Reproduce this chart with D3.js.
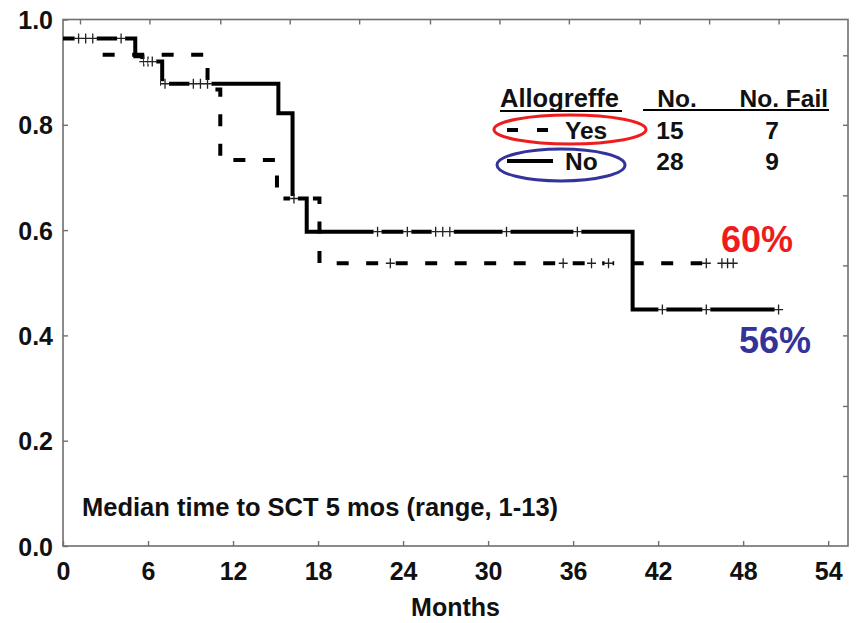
<!DOCTYPE html>
<html>
<head>
<meta charset="utf-8">
<script src="https://cdn.jsdelivr.net/npm/d3@7"></script>
<style>
  body { margin: 0; background: #fff; }
  text { font-family: "Liberation Sans", Arial, sans-serif; font-weight: bold; fill: #111; }
</style>
</head>
<body>
<svg id="chart"></svg>
<script>
// chart data
var xTicks = [0, 6, 12, 18, 24, 30, 36, 42, 48, 54];
var yTicks = [0, 0.2, 0.4, 0.6, 0.8, 1.0];
var topTicks = [1.2, 6.1, 11.1, 16.0, 20.9, 25.9, 30.8, 35.7, 40.7, 45.6, 50.5];
var rightTicks = [0.133, 0.266, 0.4, 0.533, 0.666, 0.8, 0.932];

// "No" group (solid)
var noTimes = [0, 5.1, 5.6, 7.0, 15.2, 16.2, 17.2, 40.2, 50.5];
var noSurv  = [0.964, 0.93, 0.92, 0.878, 0.822, 0.66, 0.597, 0.449, 0.449];
var noCensor = [1.1, 1.6, 2.1, 4.1, 5.7, 6.0, 6.3, 7.2, 9.2, 9.7, 10.2, 16.3, 22.2, 24.3, 26.3, 26.8, 27.3, 31.3, 36.3, 42.3, 45.4, 50.5];

// "Yes" group (dashed)
var yesTimes = [2.8, 10.2, 11.1, 15.1, 18.1, 47.3];
var yesSurv  = [0.933, 0.867, 0.733, 0.66, 0.537, 0.537];
var yesCensor = [23.1, 35.3, 37.3, 38.5, 45.4, 46.5, 46.9, 47.3];

var legendHead = ["Allogreffe", "No.", "No. Fail"];
var groups = ["Yes", "No"];
var groupN = [15, 28];
var groupFail = [7, 9];

// set the dimensions and margins of the graph
var W = 862, H = 623;
var margin = {top: 19.5, right: 14, bottom: 77, left: 63};

var svg = d3.select("#chart").attr("width", W).attr("height", H);

var x = d3.scaleLinear().domain([0, 55.4]).range([margin.left, W - margin.right]);
var y = d3.scaleLinear().domain([0, 1]).range([H - margin.bottom, margin.top]);

// frame
svg.append("rect")
    .attr("x", x(0)).attr("y", y(1))
    .attr("width", x(55.4) - x(0)).attr("height", y(0) - y(1))
    .attr("fill", "none").attr("stroke", "#6f6f6f").attr("stroke-width", 1.6);

// axes (ticks pointing inward)
var gx = svg.append("g")
    .attr("transform", "translate(0," + y(0) + ")")
    .call(d3.axisBottom(x).tickValues(xTicks).tickSizeInner(-5).tickSizeOuter(0).tickPadding(16));
var gy = svg.append("g")
    .attr("transform", "translate(" + x(0) + ",0)")
    .call(d3.axisLeft(y).tickValues(yTicks).tickFormat(d3.format(".1f")).tickSizeInner(-5).tickSizeOuter(0).tickPadding(10));
svg.append("g")
    .attr("transform", "translate(0," + y(1) + ")")
    .call(d3.axisTop(x).tickValues(topTicks).tickSizeInner(-5).tickSizeOuter(0).tickFormat(""));
svg.append("g")
    .attr("transform", "translate(" + x(55.4) + ",0)")
    .call(d3.axisRight(y).tickValues(rightTicks).tickSizeInner(-5).tickSizeOuter(0).tickFormat(""));

svg.selectAll(".domain").remove();
svg.selectAll(".tick line").attr("stroke", "#6f6f6f").attr("stroke-width", 1.4);
gx.selectAll("text").style("font-size", "25px").attr("fill", "#111").attr("dy", "0.71em");
gy.selectAll("text").style("font-size", "25px").attr("fill", "#111").attr("dy", "0.36em");

// axis title
svg.append("text")
    .attr("x", (x(0) + x(55.4)) / 2).attr("y", 616)
    .attr("text-anchor", "middle").style("font-size", "25px")
    .text("Months");

// step curves
var km = d3.line()
    .curve(d3.curveStepAfter)
    .x(function(d) { return x(d[0]); })
    .y(function(d) { return y(d[1]); });

var noData = d3.zip(noTimes, noSurv);
var yesData = d3.zip(yesTimes, yesSurv);

function survAt(times, surv, t) {
  var i = d3.bisectRight(times, t) - 1;
  return surv[Math.max(0, i)];
}

svg.append("path")
    .datum(noData)
    .attr("d", km)
    .attr("fill", "none").attr("stroke", "#000").attr("stroke-width", 4);

svg.append("path")
    .datum(yesData)
    .attr("d", km)
    .attr("fill", "none").attr("stroke", "#000").attr("stroke-width", 4)
    .attr("stroke-dasharray", "12,17.5");

// censor marks
function censors(times, surv, list) {
  var g = svg.append("g");
  list.forEach(function(t) {
    var cx = x(t), cy = y(survAt(times, surv, t));
    g.append("rect").attr("x", cx - 4).attr("y", cy - 2.5).attr("width", 8).attr("height", 5).attr("fill", "#fff");
    g.append("path")
        .attr("d", "M" + (cx - 4.5) + "," + cy + "H" + (cx + 4.5) + "M" + cx + "," + (cy - 5) + "V" + (cy + 5))
        .attr("stroke", "#222").attr("stroke-width", 1.3);
  });
}
censors(noTimes, noSurv, noCensor);
censors(yesTimes, yesSurv, yesCensor);

// legend table
var lg = svg.append("g");
lg.append("text").attr("x", 500).attr("y", 107).style("font-size", "25.5px").text(legendHead[0]);
lg.append("line").attr("x1", 500).attr("x2", 622).attr("y1", 111).attr("y2", 111).attr("stroke", "#000").attr("stroke-width", 2);
lg.append("text").attr("x", 677).attr("y", 107).attr("text-anchor", "middle").style("font-size", "24.5px").text(legendHead[1]);
lg.append("text").attr("x", 828).attr("y", 107).attr("text-anchor", "end").style("font-size", "24.5px").text(legendHead[2]);
lg.append("line").attr("x1", 643).attr("x2", 829).attr("y1", 110).attr("y2", 110).attr("stroke", "#000").attr("stroke-width", 2);

var rowY = [130, 161];
groups.forEach(function(gname, i) {
  var ry = rowY[i];
  lg.append("text").attr("x", 565).attr("y", ry + 8.5).style("font-size", "24.5px").text(gname);
  lg.append("text").attr("x", 670).attr("y", ry + 8.5).attr("text-anchor", "middle").style("font-size", "24.5px").text(groupN[i]);
  lg.append("text").attr("x", 772).attr("y", ry + 8.5).attr("text-anchor", "middle").style("font-size", "24.5px").text(groupFail[i]);
  lg.append("line")
      .attr("x1", 507).attr("x2", i === 0 ? 548 : 553).attr("y1", ry).attr("y2", ry)
      .attr("stroke", "#000").attr("stroke-width", 4)
      .attr("stroke-dasharray", i === 0 ? "11,19" : null);
});

lg.append("ellipse").attr("cx", 570).attr("cy", 129.5).attr("rx", 76).attr("ry", 14.5)
    .attr("fill", "none").attr("stroke", "#ee1c1c").attr("stroke-width", 3);
lg.append("ellipse").attr("cx", 561).attr("cy", 165).attr("rx", 64).attr("ry", 16)
    .attr("fill", "none").attr("stroke", "#333399").attr("stroke-width", 3);

// percent labels
svg.append("text").attr("x", 721).attr("y", 252).style("font-size", "36px").style("fill", "#ee1c1c").text("60%");
svg.append("text").attr("x", 739).attr("y", 353).style("font-size", "36px").style("fill", "#333399").text("56%");

// note
svg.append("text").attr("x", 82).attr("y", 516).style("font-size", "25.5px")
    .text("Median time to SCT 5 mos (range, 1-13)");
</script>
</body>
</html>
